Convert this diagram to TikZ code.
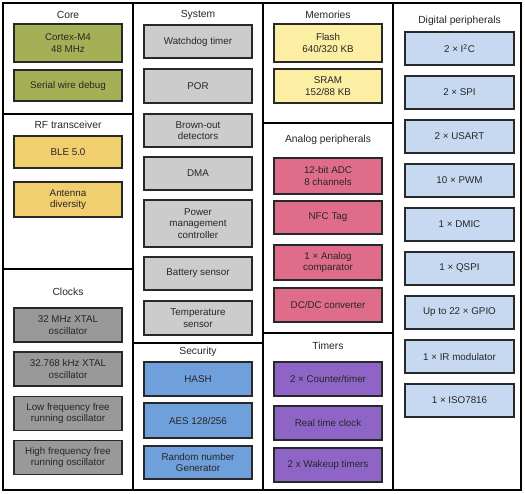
\documentclass[tikz,border=0pt]{standalone}
\usepackage{fontspec}
\setmainfont{Liberation Sans}
\definecolor{coreC}{RGB}{165,176,86}
\definecolor{rfC}{RGB}{241,206,110}
\definecolor{sysC}{RGB}{204,204,204}
\definecolor{clkC}{RGB}{153,153,153}
\definecolor{secC}{RGB}{112,160,220}
\definecolor{memC}{RGB}{252,238,162}
\definecolor{anaC}{RGB}{224,108,140}
\definecolor{timC}{RGB}{142,101,198}
\definecolor{digC}{RGB}{198,217,241}
\definecolor{edgeC}{RGB}{40,40,40}
\begin{document}
\begin{tikzpicture}[x=1pt,y=-1pt,
  panel/.style={draw=black,line width=1.3pt},
  blk/.style={draw=edgeC,line width=1.3pt,align=center,inner sep=0pt,
    font=\fontsize{9.8}{11.5}\selectfont,text=black!85},
  ttl/.style={font=\fontsize{10.3}{12}\selectfont,text=black!85,inner sep=0pt}]
\useasboundingbox (0,0) rectangle (525,494);
% panels
\draw[panel] (3,3) rectangle (521,490);
\draw[panel] (133,3) -- (133,490);
\draw[panel] (263,3) -- (263,490);
\draw[panel] (393,3) -- (393,490);
\draw[panel] (3,114) -- (133,114);
\draw[panel] (3,269) -- (133,269);
\draw[panel] (133,343) -- (263,343);
\draw[panel] (263,123) -- (393,123);
\draw[panel] (263,333) -- (393,333);
% column 1
\node[ttl] (tcore) at (68,15) {Core};
\node[blk,fill=coreC,minimum width=108pt,minimum height=38pt] (cortex) at (68,43) {Cortex-M4\\48 MHz};
\node[blk,fill=coreC,minimum width=108pt,minimum height=31pt] (swd) at (68,85.5) {Serial wire debug};
\node[ttl] (trf) at (68,125) {RF transceiver};
\node[blk,fill=rfC,minimum width=108pt,minimum height=32pt] (ble) at (68,152) {BLE 5.0};
\node[blk,fill=rfC,minimum width=108pt,minimum height=35pt] (ant) at (68,199.5) {Antenna\\diversity};
\node[ttl] (tclk) at (68,292) {Clocks};
\node[blk,fill=clkC,minimum width=108pt,minimum height=34pt] (x32m) at (68,325) {32 MHz XTAL\\oscillator};
\node[blk,fill=clkC,minimum width=108pt,minimum height=34pt] (x32k) at (68,369) {32.768 kHz XTAL\\oscillator};
\node[blk,fill=clkC,minimum width=108pt,minimum height=34pt] (lfo) at (68,413.5) {Low frequency free\\running oscillator};
\node[blk,fill=clkC,minimum width=108pt,minimum height=34pt] (hfo) at (68,457.5) {High frequency free\\running oscillator};
% column 2
\node[ttl] (tsys) at (198,15) {System};
\node[blk,fill=sysC,minimum width=108pt,minimum height=33pt] (wdt) at (198,41.5) {Watchdog timer};
\node[blk,fill=sysC,minimum width=108pt,minimum height=34pt] (por) at (198,86) {POR};
\node[blk,fill=sysC,minimum width=108pt,minimum height=33pt] (bod) at (198,130.5) {Brown-out\\detectors};
\node[blk,fill=sysC,minimum width=108pt,minimum height=33pt] (dma) at (198,173.5) {DMA};
\node[blk,fill=sysC,minimum width=108pt,minimum height=47pt] (pmc) at (198,223.5) {Power\\management\\controller};
\node[blk,fill=sysC,minimum width=108pt,minimum height=33pt] (bat) at (198,273.5) {Battery sensor};
\node[blk,fill=sysC,minimum width=108pt,minimum height=34pt] (temp) at (198,318) {Temperature\\sensor};
\node[ttl] (tsec) at (198,352) {Security};
\node[blk,fill=secC,minimum width=108pt,minimum height=34pt] (hash) at (198,379) {HASH};
\node[blk,fill=secC,minimum width=108pt,minimum height=35pt] (aes) at (198,420.5) {AES 128/256};
\node[blk,fill=secC,minimum width=108pt,minimum height=33pt] (rng) at (198,462.5) {Random number\\Generator};
% column 3
\node[ttl] (tmem) at (328,15) {Memories};
\node[blk,fill=memC,minimum width=108pt,minimum height=38pt] (flash) at (328,43) {Flash\\640/320 KB};
\node[blk,fill=memC,minimum width=108pt,minimum height=34pt] (sram) at (328,86) {SRAM\\152/88 KB};
\node[ttl] (tana) at (328,140) {Analog peripherals};
\node[blk,fill=anaC,minimum width=108pt,minimum height=36pt] (adc) at (328,176) {12-bit ADC\\8 channels};
\node[blk,fill=anaC,minimum width=108pt,minimum height=33pt] (nfc) at (328,217.5) {NFC Tag};
\node[blk,fill=anaC,minimum width=108pt,minimum height=35pt] (comp) at (328,262.5) {1 × Analog\\comparator};
\node[blk,fill=anaC,minimum width=108pt,minimum height=34pt] (dcdc) at (328,305) {DC/DC converter};
\node[ttl] (ttim) at (328,346) {Timers};
\node[blk,fill=timC,minimum width=108pt,minimum height=34pt] (ctr) at (328,379) {2 × Counter/timer};
\node[blk,fill=timC,minimum width=108pt,minimum height=34pt] (rtc) at (328,423) {Real time clock};
\node[blk,fill=timC,minimum width=108pt,minimum height=34pt] (wut) at (328,465) {2 x Wakeup timers};
% column 4
\node[ttl] (tdig) at (459.5,21) {Digital peripherals};
\node[blk,fill=digC,minimum width=109pt,minimum height=33pt] (i2c) at (459.5,48.5) {2 × I\textsuperscript{2}C};
\node[blk,fill=digC,minimum width=109pt,minimum height=33pt] (spi) at (459.5,92.5) {2 × SPI};
\node[blk,fill=digC,minimum width=109pt,minimum height=33pt] (usart) at (459.5,136.5) {2 × USART};
\node[blk,fill=digC,minimum width=109pt,minimum height=33pt] (pwm) at (459.5,180.5) {10 × PWM};
\node[blk,fill=digC,minimum width=109pt,minimum height=33pt] (dmic) at (459.5,224.5) {1 × DMIC};
\node[blk,fill=digC,minimum width=109pt,minimum height=33pt] (qspi) at (459.5,268.5) {1 × QSPI};
\node[blk,fill=digC,minimum width=109pt,minimum height=33pt] (gpio) at (459.5,312.5) {Up to 22 × GPIO};
\node[blk,fill=digC,minimum width=109pt,minimum height=33pt] (ir) at (459.5,356.5) {1 × IR modulator};
\node[blk,fill=digC,minimum width=109pt,minimum height=33pt] (iso) at (459.5,400.5) {1 × ISO7816};
\end{tikzpicture}
\end{document}
